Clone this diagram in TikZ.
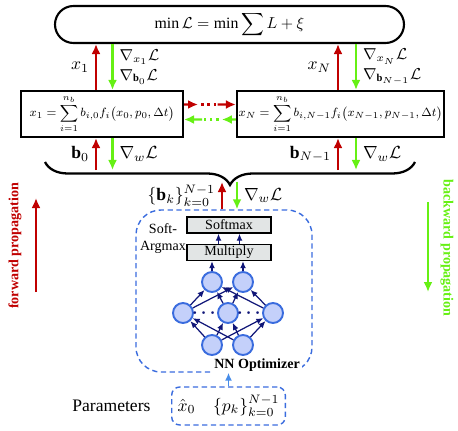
\documentclass[tikz,border=0pt]{standalone}
\usepackage{amsmath}
\usepackage{graphicx}
\usepackage{xcolor}
\usepackage{fontspec}
\setmainfont{Liberation Serif}
\usepackage{tikz}
\usetikzlibrary{calc,positioning}
\usetikzlibrary{arrows.meta,decorations.pathreplacing}

\definecolor{fwdred}{RGB}{192,0,0}
\definecolor{bwdgreen}{RGB}{102,240,20}
\definecolor{nnblue}{RGB}{58,108,222}
\definecolor{inblue}{RGB}{70,140,232}
\definecolor{nnfill}{RGB}{196,208,250}
\definecolor{navy}{RGB}{16,22,120}
\definecolor{boxgray}{RGB}{226,229,229}

\begin{document}
\begin{tikzpicture}[thick,
		main/.style = {draw, line width=1.2pt, inner sep=1pt},
		fwd/.style = {draw=fwdred, line width=1.3pt, -{Latex[length=2mm,width=1.8mm]}},
		bwd/.style = {draw=bwdgreen, line width=1.3pt, -{Latex[length=2mm,width=1.8mm]}},
		layer/.style = {draw, fill=boxgray, line width=0.8pt, minimum width=1.68cm, minimum height=0.32cm, inner sep=0pt, font=\footnotesize},
		neuron/.style = {circle, draw=nnblue, fill=nnfill, line width=1.1pt, minimum size=0.4cm, inner sep=0pt},
		syn/.style = {draw=navy, line width=0.7pt, -{Latex[length=1.4mm,width=1.2mm]}},
		dashbox/.style = {draw=nnblue, line width=0.8pt, dash pattern=on 3pt off 2pt}]
		\useasboundingbox (0,0) rectangle (9.16,8.6);
		
		% loss and dynamics
		\node[main, rounded corners=0.37cm, minimum width=6.98cm, minimum height=0.74cm] (loss) at (4.59,8.11) {\scalebox{0.9}{$\min\mathcal{L}=\min\displaystyle\sum L+\xi$}};
		\node[main, minimum width=3.24cm, minimum height=0.92cm, font=\footnotesize] (sum1) at (2.04,6.32) {\scalebox{0.85}{$\displaystyle x_1=\sum_{i=1}^{n_b} b_{i,0}f_i\bigl(x_0,p_0,\Delta t\bigr)$}};
		\node[main, minimum width=4.14cm, minimum height=0.92cm, font=\footnotesize] (sumN) at (6.81,6.32) {\scalebox{0.85}{$\displaystyle x_N=\sum_{i=1}^{n_b} b_{i,N-1}f_i\bigl(x_{N-1},p_{N-1},\Delta t\bigr)$}};
		
		\draw[fwd] ([xshift=-1.2mm]sum1.north) -- node[left] {$x_1$} ([xshift=-1.2mm]sum1.north |- loss.south);
		\draw[bwd] ([xshift=2.1mm]sum1.north |- loss.south) -- node[right, align=left, font=\small] {$\nabla_{x_1}\mathcal{L}$\\$\nabla_{\mathbf{b}_0}\mathcal{L}$} ([xshift=2.1mm]sum1.north);
		\draw[fwd] ([xshift=-0.5mm]sumN.north) -- node[left] {$x_N$} ([xshift=-0.5mm]sumN.north |- loss.south);
		\draw[bwd] ([xshift=3.1mm]sumN.north |- loss.south) -- node[right, align=left, font=\small] {$\nabla_{x_N}\mathcal{L}$\\$\nabla_{\mathbf{b}_{N-1}}\mathcal{L}$} ([xshift=3.1mm]sumN.north);
		
		% step to step
		\path ([yshift=1.9mm]sum1.east) coordinate (f0) ([yshift=1.9mm]sumN.west) coordinate (f1);
		\draw[fwd] (f0) -- ($(f0)!0.27!(f1)$);
		\draw[fwd, -, dash pattern=on 1.4pt off 2.2pt] ($(f0)!0.33!(f1)$) -- ($(f0)!0.61!(f1)$);
		\draw[fwd] ($(f0)!0.65!(f1)$) -- (f1);
		\path ([yshift=-1.1mm]sumN.west) coordinate (g0) ([yshift=-1.1mm]sum1.east) coordinate (g1);
		\draw[bwd] (g0) -- ($(g0)!0.27!(g1)$);
		\draw[bwd, -, dash pattern=on 1.4pt off 2.2pt] ($(g0)!0.33!(g1)$) -- ($(g0)!0.61!(g1)$);
		\draw[bwd] ($(g0)!0.65!(g1)$) -- (g1);
		
		% brace
		\coordinate (bl) at (0.9,5.36);
		\coordinate (br) at (8.3,5.36);
		\coordinate (bar) at (0,5.2);
		\coordinate (tip) at (4.56,4.96);
		\draw[line width=1.3pt, decorate, decoration={brace, mirror, amplitude=0.46cm}] (bl) -- (br);
		
		\draw[fwd] ([xshift=-1.2mm]sum1.south |- bar) -- node[left] {$\mathbf{b}_0$} ([xshift=-1.2mm]sum1.south);
		\draw[bwd] ([xshift=2.1mm]sum1.south) -- node[right] {$\nabla_w\mathcal{L}$} ([xshift=2.1mm]sum1.south |- bar);
		\draw[fwd] ([xshift=-0.5mm]sumN.south |- bar) -- node[left] {$\mathbf{b}_{N-1}$} ([xshift=-0.5mm]sumN.south);
		\draw[bwd] ([xshift=3.1mm]sumN.south) -- node[right] {$\nabla_w\mathcal{L}$} ([xshift=3.1mm]sumN.south |- bar);
		
		% optimizer
		\node[dashbox, rounded corners=0.5cm, minimum width=3.52cm, minimum height=3.24cm] (nn) at (4.48,2.78) {};
		\node[font=\footnotesize\bfseries, fill=white, inner sep=1pt] (nnlab) at (5.14,1.3) {NN Optimizer};
		
		\draw[fwd] ([xshift=-0.4mm]nn.north) -- node[left] {$\{\mathbf{b}_k\}_{k=0}^{N-1}$} ([xshift=-0.4mm]nn.north |- tip);
		\draw[bwd] ([xshift=2.6mm]nn.north |- tip) -- node[right] {$\nabla_w\mathcal{L}$} ([xshift=2.6mm]nn.north);
		
		\node[layer] (soft) at (4.58,4.1) {Softmax};
		\node[layer] (mul) at (4.58,3.55) {Multiply};
		\node[font=\footnotesize, align=center] (sa) at (3.26,3.83) {Soft-\\Argmax};
		\draw[syn] ([xshift=-2.1mm]mul.north) -- ([xshift=-2.1mm]soft.south);
		\draw[syn] ([xshift=2.1mm]mul.north) -- ([xshift=2.1mm]soft.south);
		
		\foreach \nm/\px/\py in {i1/4.24/1.7, i2/4.86/1.7, h1/3.66/2.34, h2/4.56/2.34, h3/5.46/2.34, o1/4.24/2.96, o2/4.86/2.96}
			\node[neuron] (\nm) at (\px,\py) {};
		\foreach \src in {i1,i2}
			\foreach \dst in {h1,h2,h3}
				\draw[syn] (\src) -- (\dst);
		\foreach \src in {h1,h2,h3}
			\foreach \dst in {o1,o2}
				\draw[syn] (\src) -- (\dst);
		\draw[syn] (o1) -- (o1 |- mul.south);
		\draw[syn] (o2) -- (o2 |- mul.south);
		\node[text=navy, font=\boldmath] (d1) at (4.11,2.34) {$\cdots$};
		\node[text=navy, font=\boldmath] (d2) at (5.01,2.34) {$\cdots$};
		
		% inputs
		\node[dashbox, rounded corners=0.16cm, minimum width=2.22cm, minimum height=0.76cm] (par) at (4.57,0.48) {$\hat{x}_0\quad\{p_k\}_{k=0}^{N-1}$};
		\node[left=0.28cm of par] (parlab) {Parameters};
		\draw[draw=inblue, line width=1pt, -{Latex[length=1.6mm,width=1.4mm]}] (par) -- (par |- nn.south);
		
		% propagation
		\node[rotate=90, text=fwdred, font=\footnotesize\bfseries] (fwdlab) at (0.3,3.68) {forward propagation};
		\coordinate (fa) at (0.72,2.76);
		\coordinate (fb) at (0.72,4.64);
		\draw[fwd] (fa) -- (fb);
		\node[rotate=-90, text=bwdgreen, font=\footnotesize\bfseries] (bwdlab) at (8.94,3.64) {backward propagation};
		\coordinate (ba) at (8.56,4.56);
		\coordinate (bb) at (8.56,2.76);
		\draw[bwd] (ba) -- (bb);
	\end{tikzpicture}
\end{document}
